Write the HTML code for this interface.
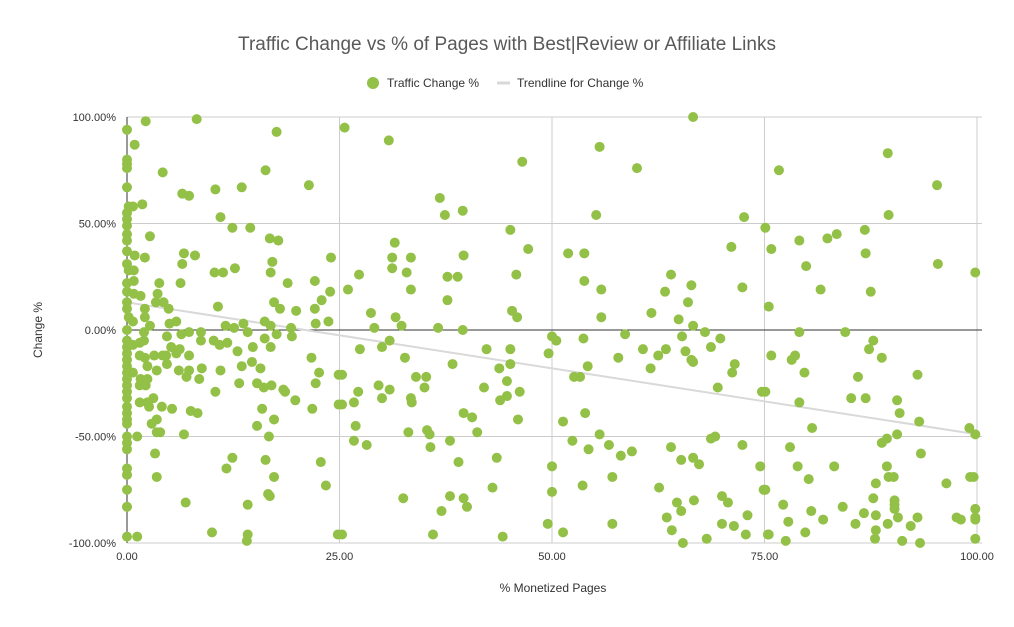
<!DOCTYPE html>
<html><head><meta charset="utf-8"><style>
html,body{margin:0;padding:0;background:#fff;}
svg{display:block;font-family:"Liberation Sans",Arial,sans-serif;}
</style></head><body>
<svg id="chart" width="1014" height="627" viewBox="0 0 1014 627" xmlns="http://www.w3.org/2000/svg">
<rect width="1014" height="627" fill="#fff"/>
<text x="507" y="50" text-anchor="middle" font-size="19" fill="#595959">Traffic Change vs % of Pages with Best|Review or Affiliate Links</text>
<g>
<circle cx="373" cy="83" r="6" fill="#93c047"/>
<text x="387" y="87" font-size="12" fill="#333">Traffic Change %</text>
<line x1="497" y1="83" x2="510" y2="83" stroke="#d9d9d9" stroke-width="3"/>
<text x="517" y="87" font-size="12" fill="#333">Trendline for Change %</text>
</g>
<g id="grid"></g>
<g id="axes"></g>
<g id="trend"></g>
<g id="pts"></g>
<text x="553" y="592" text-anchor="middle" font-size="12" fill="#333">% Monetized Pages</text>
<text transform="translate(42,330) rotate(-90)" text-anchor="middle" font-size="12" fill="#333">Change %</text>
</svg>
<script>
const xTicks=[0,25,50,75,100];
const xTickLabels=["0.00","25.00","50.00","75.00","100.00"];
const yTicks=[100,50,0,-50,-100];
const yTickLabels=["100.00%","50.00%","0.00%","-50.00%","-100.00%"];
const trendStart=[0,13];
const trendEnd=[100,-49];
const xVals=[0,2.2,8.2,0.9,0,0,0,4.2,0,6.5,7.3,10.4,13.5,16.3,17.6,25.6,21.4,0.2,0.7,1.8,0,0,0,0,0,2.7,11,12.4,14.5,16.8,17.8,0,0.9,2.1,6.7,8,6.5,0,0.2,0.8,10.3,11.3,12.7,17.1,16.9,24,0,0.8,3.8,6.3,18.9,22.1,0,0.8,1.6,3.6,3.4,4.3,4.9,0,0,0.2,0.7,2.1,2.1,10.7,17.3,18,19.9,22.1,22.9,23.9,22.2,23.7,5,5.8,2.7,0,2,6.4,7.3,8.7,11.6,12.6,13.7,14.2,16.2,16.9,19.3,4.7,8.7,10.2,10.9,11.8,14.8,16.2,16.9,17.6,19.4,0,0,0,0,0,0,0,0,0,0,0,0,0,0,0.7,1.5,2,1.5,2.1,2.4,3.2,4.2,5.2,5.8,6.2,4.6,4.7,3.5,6.1,7.3,7.3,7,8.8,8.5,0.7,1.6,1.5,2.4,2.2,13,13.5,14.7,15.7,13.2,15.3,16.1,17,18.4,18.6,19.8,10.4,11,21.7,22.6,22.2,24.9,24.9,1.5,2.4,2.6,3.1,4.1,5.3,7.5,8.3,15.9,17.3,21.8,2.9,3.5,3.5,3.9,6.7,1.2,15.3,16.7,0,0,0,3.3,12.4,11.7,16.3,22.8,23.4,0,0,0,0,3.5,6.9,14.2,16.6,16.8,17.3,0,1.2,10,14.2,14.1,24.8,
30.8,46.5,36.8,37.4,39.5,45.1,47.2,31.5,31.2,33.4,31.2,32.9,33.4,27.3,26,37.7,38.9,39.6,37.7,45.8,45.3,45.9,28.7,29.1,31.6,32.3,36.6,39.5,50,50.5,49.6,30.9,30,27.4,32.7,42.3,45.1,43.8,45.1,38.3,25.3,34,35.2,35,29.6,30.9,27.2,26.7,25.3,30,33.4,33.5,42,44.7,43.9,44.7,46.2,46,39.6,40.6,41.2,26.9,26.7,28.2,33.1,35.3,35.6,35.7,38,39,43.5,50,50,49.5,32.5,38,39.6,40,37,43,25.3,36,44.2,
66.6,55.6,60,55.2,72.6,51.9,53.8,53.8,55.8,55.8,71.1,72.4,64,66.4,63.3,66,61.7,64.9,66.6,68,50.5,53.7,58.6,65.3,69.8,68.7,65.7,66.4,66.6,63.4,62.5,60.7,61.6,57.8,54.2,52.6,53.3,71.5,71.2,69.5,74.7,53.9,51.3,52.4,55.6,54.3,56.7,58.1,59.4,64,65.2,66.6,67.3,68.7,69.2,72.4,74.5,74.9,53.6,57.1,62.6,64.7,65.2,66.7,70,70.7,63.5,64.1,65.4,68.2,70,71.4,73,72.8,57.1,51.3,75.4,
89.5,95.3,89.6,76.7,75.1,75.8,79.1,82.4,83.5,86.8,86.9,79.9,81.6,87.5,95.4,99.8,75.5,79.1,84.5,87.8,87.3,88.8,75.8,78.2,78.6,79.7,86,93,85.2,86.9,90.6,90.9,93.2,75.1,79.1,80.6,99.1,99.8,90.6,89.4,88.8,93.4,78,78.9,80.2,83.2,89.4,89.6,90.2,88.1,87.8,96.4,99.2,99.6,75.1,77.2,77.8,80.5,81.9,84.2,85.7,86.7,88.1,88.1,88,89.5,90.7,90.3,90.3,90.3,92.2,93,97.6,98.1,99.8,99.8,99.8,99.8,75.5,77.5,79.8,91.2,93.3];
const yVals=[94,98,99,87,80,78,76,74,67,64,63,66,67,75,93,95,68,58,58,59,55,52,49,45,42,44,53,48,48,43,42,37,35,34,36,35,31,31,28,28,27,27,29,32,27,34,22,23,22,22,22,23,18,17,16,17,13,13,10,13,10,6,4,10,6,11,13,10,9,10,14,18,3,4,3,4,2,0,-1,-2,-1,-1,2,1,3,-1,4,2,1,-3,-5,-5,-7,-6,-8,-4,-8,-2,-3,-5,-8,-11,-14,-17,-20,-23,-26,-29,-32,-36,-39,-42,-44,-7,-6,-5,-12,-13,-17,-12,-12,-8,-11,-9,-12,-16,-19,-19,-12,-19,-22,-18,-23,-20,-23,-26,-23,-26,-10,-17,-15,-18,-25,-25,-27,-26,-28,-29,-33,-29,-19,-13,-20,-25,-21,-35,-34,-34,-36,-32,-36,-37,-38,-39,-37,-42,-37,-44,-42,-48,-48,-49,-50,-45,-50,-50,-53,-56,-58,-60,-65,-61,-62,-73,-65,-68,-75,-83,-69,-81,-82,-77,-78,-69,-97,-97,-95,-96,-99,-96,
89,79,62,54,56,47,38,41,34,34,29,27,19,26,19,25,25,35,14,26,9,6,8,1,6,2,1,0,-3,-5,-11,-5,-8,-9,-13,-9,-9,-18,-16,-16,-21,-22,-22,-27,-26,-28,-29,-34,-35,-32,-32,-34,-27,-24,-33,-31,-29,-42,-39,-41,-48,-45,-52,-54,-48,-47,-49,-55,-52,-62,-60,-64,-76,-91,-79,-78,-79,-83,-85,-74,-96,-96,-97,
100,86,76,54,53,36,36,23,19,6,39,20,26,21,18,13,8,5,2,-1,-5,-4,-2,-3,-4,-8,-10,-14,-15,-9,-12,-9,-18,-13,-17,-22,-22,-16,-20,-27,-29,-39,-43,-52,-49,-56,-54,-59,-57,-55,-61,-60,-63,-51,-50,-54,-64,-75,-73,-69,-74,-81,-85,-80,-78,-81,-88,-94,-100,-98,-91,-92,-87,-96,-91,-95,-96,
83,68,54,75,48,38,42,43,45,47,36,30,19,18,31,27,11,-1,-1,-5,-9,-13,-12,-14,-12,-20,-22,-21,-32,-32,-33,-39,-43,-29,-34,-46,-46,-49,-49,-51,-53,-58,-55,-64,-70,-64,-64,-69,-69,-72,-79,-72,-69,-69,-75,-82,-90,-85,-89,-83,-91,-86,-87,-94,-98,-91,-88,-80,-82,-84,-92,-88,-88,-89,-84,-88,-89,-98,-96,-99,-95,-99,-100];
const NS='http://www.w3.org/2000/svg';
const X0=127,X1=977,Y0=543,Y1=117;
function sx(v){return X0+(v-0)/(100-0)*(X1-X0);}
function sy(v){return Y0-(v+100)/200*(Y0-Y1);}
function mk(tag,attrs,parent){const e=document.createElementNS(NS,tag);for(const k in attrs)e.setAttribute(k,attrs[k]);parent.appendChild(e);return e;}
const grid=document.getElementById('grid'),axes=document.getElementById('axes');
yTicks.forEach((t,i)=>{
  const l=mk('line',{x1:X0,x2:982,y1:sy(t),y2:sy(t),stroke:t===0?'#333':'#ccc','stroke-width':1},t===0?axes:grid);
  
  
  const tx=mk('text',{x:116,y:sy(t)+4,'text-anchor':'end','font-size':11,fill:'#333'},axes);
  tx.textContent=yTickLabels[i];
  
  
});
xTicks.forEach((t,i)=>{
  const l=mk('line',{x1:sx(t),x2:sx(t),y1:Y1,y2:Y0,stroke:t===0?'#333':'#ccc','stroke-width':1},t===0?axes:grid);
  
  
  const tx=mk('text',{x:sx(t),y:560,'text-anchor':'middle','font-size':11,fill:'#333'},axes);
  tx.textContent=xTickLabels[i];
  
  
});
const tl=mk('line',{x1:sx(trendStart[0]),y1:sy(trendStart[1]),x2:sx(trendEnd[0]),y2:sy(trendEnd[1]),stroke:'#d9d9d9','stroke-width':2},document.getElementById('trend'));


const pts=document.getElementById('pts');
xVals.forEach((x,i)=>{
  const c=mk('circle',{cx:sx(x),cy:sy(yVals[i]),r:5,fill:'#93c047'},pts);
  
  
});
</script>
</body></html>
